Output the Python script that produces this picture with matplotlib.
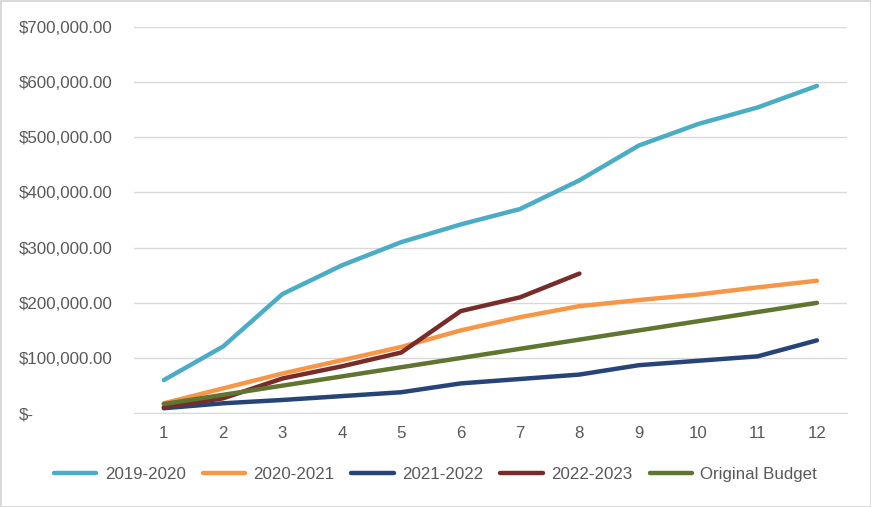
import matplotlib.pyplot as plt
from matplotlib.ticker import FuncFormatter

plt.rcParams['font.family'] = ['Liberation Sans', 'DejaVu Sans']

months = [1, 2, 3, 4, 5, 6, 7, 8, 9, 10, 11, 12]

fy_2019 = [60000, 121000, 216000, 268000, 310000, 342000, 370000, 422000, 485000, 524000, 554000, 593000]
fy_2020 = [18000, 45000, 72000, 96000, 120000, 150000, 174000, 194000, 205000, 215000, 228000, 240000]
fy_2021 = [9000, 18000, 24000, 31000, 38000, 54000, 62000, 70000, 87000, 95000, 103000, 132000]
fy_2022 = [11000, 27000, 63000, 85000, 110000, 185000, 210000, 253000]
budget = [16667, 33333, 50000, 66667, 83333, 100000, 116667, 133333, 150000, 166667, 183333, 200000]

series = [
    ('2019-2020', fy_2019, '#4BACC6'),
    ('2020-2021', fy_2020, '#F79646'),
    ('2021-2022', fy_2021, '#264478'),
    ('2022-2023', fy_2022, '#772C2A'),
    ('Original Budget', budget, '#5F7530'),
]

fig = plt.figure(figsize=(8.71, 5.07), dpi=100, edgecolor='#D9D9D9', linewidth=2)
ax = fig.add_axes([0.154, 0.185, 0.818, 0.762])

for name, vals, col in series:
    ax.plot(months[:len(vals)], vals, color=col, lw=3.2, label=name, solid_capstyle='round')

ax.set_xlim(0.5, 12.5)
ax.set_ylim(0, 700000)
ax.set_xticks(months)
ax.set_yticks(range(0, 700001, 100000))

def money(v, pos):
    if v == 0:
        return '$-'
    return '${:,.2f}'.format(v)

ax.yaxis.set_major_formatter(FuncFormatter(money))
ax.grid(axis='y', color='#D9D9D9', lw=1)
ax.set_axisbelow(True)
for s in ['top', 'right', 'left']:
    ax.spines[s].set_visible(False)
ax.spines['bottom'].set_color('#D9D9D9')
ax.tick_params(axis='both', length=0, colors='#595959', labelsize=12.2)
ax.tick_params(axis='y', pad=83)
ax.tick_params(axis='x', pad=9)
for lab in ax.get_yticklabels():
    lab.set_ha('left')

fig.legend(loc='center', bbox_to_anchor=(0.5, 0.065), ncol=5, frameon=False,
           fontsize=12.2, labelcolor='#595959', handlelength=2.5, handletextpad=0.5,
           columnspacing=1.0)

fig.savefig('out.png', dpi=100, edgecolor=fig.get_edgecolor())
